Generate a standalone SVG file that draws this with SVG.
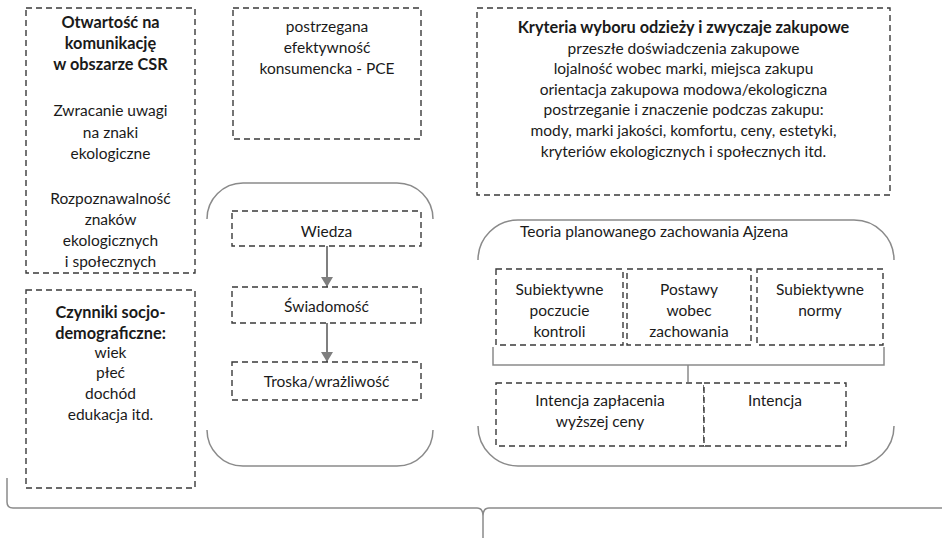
<svg xmlns="http://www.w3.org/2000/svg" width="942" height="541" viewBox="0 0 942 541">
  <style>
    .box { fill: #ffffff; stroke: #3a3a3a; stroke-width: 1.4; stroke-dasharray: 6 4; }
    .brk { fill: none; stroke: #8a8a8a; stroke-width: 1.5; }
    .t { font-family: Lato, "Open Sans", sans-serif; font-size: 15.5px; fill: #1a1a1a; text-anchor: middle; }
    .b { font-weight: bold; font-size: 16.3px; }
    .tl { text-anchor: start; }
    .arr { stroke: #7f7f7f; stroke-width: 2; fill: none; }
  </style>
  <defs>
    <marker id="head" viewBox="0 0 10 12" refX="10" refY="6" markerWidth="10" markerHeight="12" markerUnits="userSpaceOnUse" orient="auto">
      <path d="M0,0 L10,6 L0,12 Z" fill="#7f7f7f"/>
    </marker>
  </defs>
  <rect width="942" height="541" fill="#ffffff"/>

  <!-- outer brace spanning the whole model -->
  <g id="brace">
    <path class="brk" d="M7,478 L7,502 Q7,508 13,508 L477,508 Q483,508 483,516 L483,538 M483,516 Q483,508 489,508 L942,508"/>
  </g>

  <!-- rounded bracket groups -->
  <g id="group-awareness">
    <path class="brk" d="M207,219 A36,36 0 0 1 243,183 L397,183 A36,36 0 0 1 433,219"/>
    <path class="brk" d="M207,430 A36,36 0 0 0 243,466 L397,466 A36,36 0 0 0 433,430"/>
  </g>
  <g id="group-ajzen">
    <path class="brk" d="M478,260 A40,40 0 0 1 518,220 L854,220 A40,40 0 0 1 894,260"/>
    <path class="brk" d="M478,426 A40,40 0 0 0 518,466 L854,466 A40,40 0 0 0 894,426"/>
    <text class="t tl" x="520" y="237">Teoria planowanego zachowania Ajzena</text>
  </g>

  <g id="connectors">
    <line class="arr" x1="327" y1="246" x2="327" y2="287" marker-end="url(#head)"/>
    <line class="arr" x1="327" y1="323" x2="327" y2="362" marker-end="url(#head)"/>
    <path class="brk" d="M493,347 L493,365 L884,365 L884,347 M688,365 L688,382"/>
  </g>

  <g id="csr">
    <rect class="box" x="26" y="8" width="169" height="265"/>
    <text class="t b" x="110.5" y="28">Otwartość na</text>
    <text class="t b" x="110.5" y="49">komunikację</text>
    <text class="t b" x="110.5" y="70">w obszarze CSR</text>
    <text class="t" x="110.5" y="116">Zwracanie uwagi</text>
    <text class="t" x="110.5" y="138">na znaki</text>
    <text class="t" x="110.5" y="159">ekologiczne</text>
    <text class="t" x="110.5" y="204">Rozpoznawalność</text>
    <text class="t" x="110.5" y="225">znaków</text>
    <text class="t" x="110.5" y="246">ekologicznych</text>
    <text class="t" x="110.5" y="267">i społecznych</text>
  </g>

  <g id="socio">
    <rect class="box" x="26" y="290" width="169" height="198"/>
    <text class="t b" x="110.5" y="318">Czynniki socjo-</text>
    <text class="t b" x="110.5" y="339">demograficzne:</text>
    <text class="t" x="110.5" y="358">wiek</text>
    <text class="t" x="110.5" y="378">płeć</text>
    <text class="t" x="110.5" y="399">dochód</text>
    <text class="t" x="110.5" y="420">edukacja itd.</text>
  </g>

  <g id="pce">
    <rect class="box" x="233" y="8" width="188" height="131"/>
    <text class="t" x="327" y="32">postrzegana</text>
    <text class="t" x="327" y="53">efektywność</text>
    <text class="t" x="327" y="74">konsumencka - PCE</text>
  </g>

  <g id="criteria">
    <rect class="box" x="477" y="8" width="413" height="187"/>
    <text class="t b" x="683.5" y="33">Kryteria wyboru odzieży i zwyczaje zakupowe</text>
    <text class="t" x="683.5" y="54">przeszłe doświadczenia zakupowe</text>
    <text class="t" x="683.5" y="74">lojalność wobec marki, miejsca zakupu</text>
    <text class="t" x="683.5" y="95">orientacja zakupowa modowa/ekologiczna</text>
    <text class="t" x="683.5" y="115">postrzeganie i znaczenie podczas zakupu:</text>
    <text class="t" x="683.5" y="136">mody, marki jakości, komfortu, ceny, estetyki,</text>
    <text class="t" x="683.5" y="157">kryteriów ekologicznych i społecznych itd.</text>
  </g>

  <g id="wiedza">
    <rect class="box" x="232" y="211" width="189" height="35"/>
    <text class="t" x="326.5" y="237">Wiedza</text>
  </g>
  <g id="swiadomosc">
    <rect class="box" x="232" y="287" width="189" height="36"/>
    <text class="t" x="326.5" y="312">Świadomość</text>
  </g>
  <g id="troska">
    <rect class="box" x="232" y="362" width="189" height="38"/>
    <text class="t" x="326.5" y="387">Troska/wrażliwość</text>
  </g>

  <g id="kontrola">
    <rect class="box" x="496" y="269" width="127" height="76"/>
    <text class="t" x="559.5" y="295">Subiektywne</text>
    <text class="t" x="559.5" y="316">poczucie</text>
    <text class="t" x="559.5" y="337">kontroli</text>
  </g>
  <g id="postawy">
    <rect class="box" x="627" y="269" width="124" height="76"/>
    <text class="t" x="689" y="295">Postawy</text>
    <text class="t" x="689" y="316">wobec</text>
    <text class="t" x="689" y="337">zachowania</text>
  </g>
  <g id="normy">
    <rect class="box" x="757" y="269" width="126" height="76"/>
    <text class="t" x="820" y="295">Subiektywne</text>
    <text class="t" x="820" y="316">normy</text>
  </g>

  <g id="intencja-ceny">
    <rect class="box" x="496" y="383" width="208" height="63"/>
    <text class="t" x="600" y="406">Intencja zapłacenia</text>
    <text class="t" x="600" y="427">wyższej ceny</text>
  </g>
  <g id="intencja">
    <rect class="box" x="704" y="383" width="142" height="63"/>
    <text class="t" x="775" y="406">Intencja</text>
  </g>
</svg>
